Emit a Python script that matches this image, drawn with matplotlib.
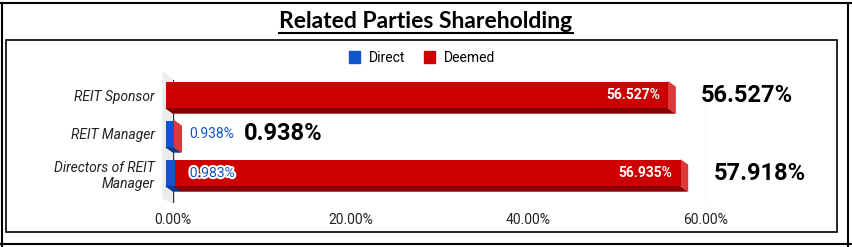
import matplotlib.pyplot as plt
from matplotlib.patches import Polygon, Patch
from matplotlib.lines import Line2D
import matplotlib.patheffects as pe

# data
categories = ["REIT Sponsor", "REIT Manager", "Directors of REIT\nManager"]
direct = [0.0, 0.938, 0.983]
deemed = [56.527, 0.0, 56.935]
ticks = [0, 20, 40, 60]
tick_labels = ["0.00%", "20.00%", "40.00%", "60.00%"]

BLUE, BLUE_DARK, BLUE_SIDE = "#1155cc", "#0b3c8f", "#3a72d6"
RED, RED_DARK, RED_SIDE = "#cc0000", "#870000", "#dc3a3a"

plt.rcParams["font.family"] = ["Roboto", "DejaVu Sans"]

W, H = 852, 247
fig = plt.figure(figsize=(W / 100, H / 100), dpi=100)


def fx(px):
    return px / W


def fy(py):
    return 1 - py / H


# frame lines (table cell + inner chart box)
fig.add_artist(Line2D([0, 1], [fy(3), fy(3)], color="black", lw=1.5))
fig.add_artist(Line2D([0, 1], [fy(244), fy(244)], color="black", lw=1.5))
fig.add_artist(Line2D([fx(2), fx(2)], [fy(3), fy(247)], color="black", lw=1.5))
fig.add_artist(Line2D([fx(848), fx(848)], [fy(3), fy(247)], color="black", lw=1.5))
fig.add_artist(plt.Rectangle((fx(6), fy(232)), fx(837) - fx(6), fy(40) - fy(232),
                             fill=False, ec="black", lw=1.2))

title = fig.text(fx(426), fy(22), "Related Parties Shareholding", ha="center", va="center",
                 fontsize=16.5, fontweight="bold", family=["Lato", "DejaVu Sans"])

# plot area
ax = fig.add_axes([fx(173), fy(203), fx(706) - fx(173), fy(80) - fy(203)])
ax.set_xlim(0, 60)
ax.set_ylim(2 + 30 / 39, -15 / 39)
for s in ax.spines.values():
    s.set_visible(False)

ppx = 533 / 60  # pixels per percent
dx = 7 / ppx    # 3d depth in data units
dy = 5 / 39
h = 26 / 39

# left grey wall
ax.add_patch(Polygon([(-10 / ppx, -23 / 39), (0, -15 / 39), (0, 2 + 30 / 39), (-10 / ppx, 2 + 25 / 39)],
                     closed=True, color="#ececec", clip_on=False, zorder=0))
ax.axvline(0, color="#333333", lw=1, zorder=1)
ax.axvline(60, color="#cccccc", lw=1, zorder=1)

for i in range(len(categories)):
    left = -dx
    segs = [(direct[i], BLUE, BLUE_DARK, BLUE_SIDE), (deemed[i], RED, RED_DARK, RED_SIDE)]
    for k, (v, c, cd, cs) in enumerate(segs):
        x0, x1 = left, left + v
        if v > 0:
            ax.add_patch(Polygon([(x0, i + h / 2), (x1, i + h / 2), (x1 + dx, i + h / 2 + dy),
                                  (x0 + dx, i + h / 2 + dy)], closed=True, color=cd,
                                 clip_on=False, zorder=2))
        if k == len(segs) - 1:
            ax.add_patch(Polygon([(x1, i - h / 2), (x1 + dx, i - h / 2 + dy), (x1 + dx, i + h / 2 + dy),
                                  (x1, i + h / 2)], closed=True, color=cs, clip_on=False, zorder=2))
        ax.barh(i, v, left=x0, height=h, color=c, zorder=3, clip_on=False)
        left = x1

    total = direct[i] + deemed[i]
    lab_x = -dx + direct[i] + dx + 0.9
    if direct[i] > 0:
        if deemed[i] > 0:
            ax.text(lab_x, i, f"{direct[i]:.3f}%", color=BLUE, fontsize=10, va="center", ha="left",
                    zorder=5, path_effects=[pe.withStroke(linewidth=3, foreground="white")])
        else:
            ax.text(lab_x, i, f"{direct[i]:.3f}%", color=BLUE, fontsize=10, va="center", ha="left",
                    zorder=5)
    if deemed[i] > 0:
        ax.text(total - dx - 0.9, i, f"{deemed[i]:.3f}%", color="white", fontsize=10,
                fontweight="bold", va="center", ha="right", zorder=5)
        tx = total - dx + 3.7
    else:
        tx = lab_x + 6.1
    ax.text(tx, i, f"{total:.3f}%", color="black", fontsize=17, fontweight="bold",
            va="center", ha="left", zorder=5, clip_on=False)

ax.set_xticks(ticks)
ax.set_xticklabels(tick_labels, fontsize=10, color="#222222")
ax.set_yticks(range(len(categories)))
ax.set_yticklabels(categories, fontsize=10, style="italic", color="#222222")
ax.tick_params(axis="x", length=0, pad=7)
ax.tick_params(axis="y", length=0, pad=13)

fig.legend(handles=[Patch(color=BLUE, label="Direct"), Patch(color=RED, label="Deemed")],
           loc="center", bbox_to_anchor=(fx(422), fy(58)), ncol=2, frameon=False, fontsize=10,
           handlelength=0.8, handleheight=1.0, handletextpad=0.6, columnspacing=1.4)

# underline title
fig.canvas.draw()
bb = title.get_window_extent()
fig.add_artist(Line2D([bb.x0 / W, bb.x1 / W], [(bb.y0 - 1) / H, (bb.y0 - 1) / H], color="black", lw=1.5))

fig.savefig("out.png", dpi=100)
